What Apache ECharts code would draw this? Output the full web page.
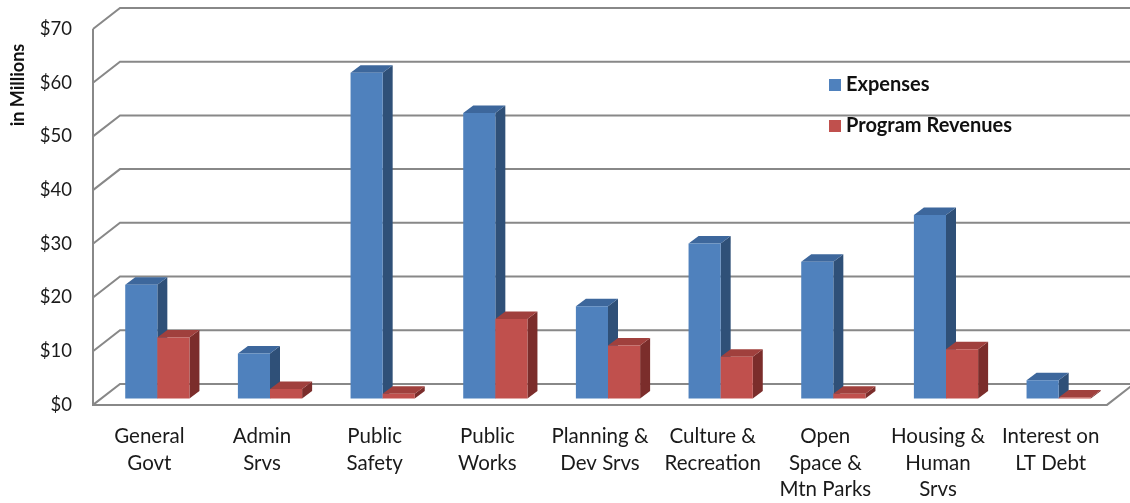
<!DOCTYPE html>
<html>
<head>
<meta charset="utf-8">
<script src="https://cdn.jsdelivr.net/npm/echarts@6/dist/echarts.min.js"></script>
<style>
html,body{margin:0;padding:0;background:#fff;}
#chart{width:1130px;height:503px;}
</style>
</head>
<body>
<div id="chart"></div>
<script>
const categories = ['General\nGovt','Admin\nSrvs','Public\nSafety','Public\nWorks','Planning &\nDev Srvs','Culture &\nRecreation','Open\nSpace &\nMtn Parks','Housing &\nHuman\nSrvs','Interest on\nLT Debt'];
const expenses = [21.2, 8.4, 60.7, 53.2, 17.2, 28.9, 25.5, 34.2, 3.4];
const revenues = [11.4, 1.8, 0.9, 14.8, 9.9, 7.8, 0.9, 9.2, 0.2];
const yTicks = [0, 10, 20, 30, 40, 50, 60, 70];

const FONT = 'Lato, "Open Sans", sans-serif';
const WALL_DX = 27, WALL_DY = -21;      // depth of the plot box
const PLANE_DX = 8, PLANE_DY = -6.3;     // front plane of the bars
const BAR_DX = 10, BAR_DY = -7.5;        // bar depth
const GRID_COLOR = '#888888';

const palettes = [
  {front:'#4F81BD', top:'#3D679C', side:'#2F5078'},
  {front:'#C0504D', top:'#A0403D', side:'#7B2D2B'}
];

function gridRender(params, api){
  const cs = params.coordSys;
  const v = api.value(1);
  const y = api.coord([0, v])[1];
  const x0 = cs.x;
  const x1 = cs.x + cs.width;
  const children = [
    {type:'polyline', shape:{points:[[x0,y],[x0+WALL_DX,y+WALL_DY],[x1+WALL_DX+40,y+WALL_DY]]},
     style:{stroke:GRID_COLOR, lineWidth:2, fill:null}}
  ];
  if (params.dataIndex === 0) {
    children.push({type:'polyline', shape:{points:[[x0,cs.y],[x0,y],[x1,y],[x1+WALL_DX,y+WALL_DY]]},
      style:{stroke:GRID_COLOR, lineWidth:2, fill:null}});
  }
  return {type:'group', children};
}

function makeBarRender(s){
  return function(params, api){
    const idx = api.value(0);
    const val = api.value(1);
    const base = api.coord([idx, 0]);
    const top = api.coord([idx, val]);
    const band = api.size([1, 0])[0];
    const w = band * 0.285;
    const xa = base[0] + PLANE_DX + (s === 0 ? -w : 0);
    const xb = xa + w;
    const yb = base[1] + PLANE_DY;
    const yt = top[1] + PLANE_DY;
    const p = palettes[s];
    return {type:'group', children:[
      {type:'polygon', shape:{points:[[xb,yt],[xb+BAR_DX,yt+BAR_DY],[xb+BAR_DX,yb+BAR_DY],[xb,yb]]},
        style:{fill:p.side}},
      {type:'polygon', shape:{points:[[xa,yt],[xb,yt],[xb+BAR_DX,yt+BAR_DY],[xa+BAR_DX,yt+BAR_DY]]},
        style:{fill:p.top}},
      {type:'rect', shape:{x:xa, y:yt, width:w, height:yb-yt}, style:{fill:p.front}}
    ]};
  };
}

const chart = echarts.init(document.getElementById('chart'), null, {renderer:'canvas'});
chart.setOption({
  animation:false,
  backgroundColor:'#fff',
  grid:{left:93, right:23, top:29, bottom:95},
  xAxis:{
    type:'category', data:categories,
    axisLine:{show:false}, axisTick:{show:false}, splitLine:{show:false},
    axisLabel:{interval:0, margin:18, fontFamily:FONT, fontSize:20.5, color:'#1a1a1a', lineHeight:26.7}
  },
  yAxis:{
    type:'value', min:0, max:70, interval:10,
    axisLine:{show:false}, axisTick:{show:false}, splitLine:{show:false},
    axisLabel:{margin:21, fontFamily:FONT, fontSize:18.5, color:'#1a1a1a', padding:[6,0,0,0], formatter: v => '$' + v}
  },
  legend:{
    orient:'vertical', left:824, top:70, itemWidth:12, itemHeight:12, itemGap:21,
    icon:'rect',
    textStyle:{fontFamily:FONT, fontSize:20, fontWeight:'bold', color:'#111', padding:[0,0,0,0]},
    data:[{name:'Expenses', itemStyle:{color:palettes[0].front}}, {name:'Program Revenues', itemStyle:{color:palettes[1].front}}]
  },
  graphic:[{
    type:'text', x:18, y:85, rotation:Math.PI/2,
    style:{text:'in Millions', font:'bold 18px ' + FONT, fill:'#111', textAlign:'center', textVerticalAlign:'middle'}
  }],
  series:[
    {type:'custom', name:'grid', silent:true, z:1, renderItem:gridRender,
     data: yTicks.map(v => [0, v]), encode:{x:0, y:1}},
    {type:'custom', name:'Expenses', z:2, renderItem:makeBarRender(0), itemStyle:{color:palettes[0].front},
     data: expenses.map((v,i) => [i, v]), encode:{x:0, y:1}},
    {type:'custom', name:'Program Revenues', z:3, renderItem:makeBarRender(1), itemStyle:{color:palettes[1].front},
     data: revenues.map((v,i) => [i, v]), encode:{x:0, y:1}}
  ]
});
</script>
</body>
</html>
